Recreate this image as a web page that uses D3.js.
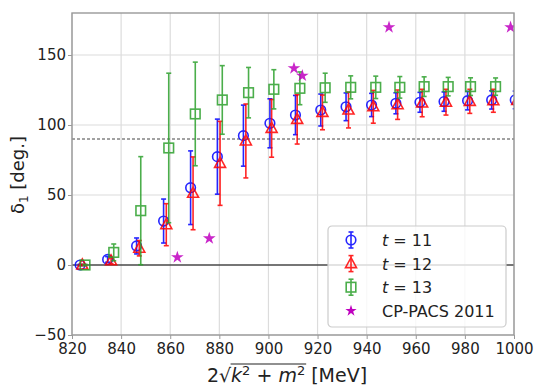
<!DOCTYPE html>
<html>
<head>
<meta charset="utf-8">
<script src="https://cdn.jsdelivr.net/npm/d3@7"></script>
<style>
  body { margin: 0; background: #fff; }
  text { font-family: "DejaVu Sans", sans-serif; }
</style>
</head>
<body>
<svg id="drawing_region"></svg>
<script>
// energies per series (MeV)
const x_t11 = [823.3, 834.5, 846.3, 857.3, 868.3, 879.2, 889.8, 900.6, 911.0, 921.3, 931.6, 942.0, 951.9, 961.7, 971.5, 981.1, 990.9, 1000.5];
const x_t12 = [824.2, 835.9, 847.4, 858.4, 869.3, 880.3, 890.8, 901.3, 911.7, 922.0, 932.6, 942.7, 952.6, 962.6, 972.3, 982.0, 991.6, 1001.3];
const x_t13 = [825.3, 837.0, 848.0, 859.4, 870.2, 881.2, 891.9, 902.2, 912.8, 923.1, 933.5, 943.7, 953.5, 963.4, 973.2, 982.3, 992.5, 1002.2];

const d_t11 = [0, 4, 13.6, 31.4, 55.2, 77.4, 92.4, 101.2, 107.1, 110.7, 113.0, 114.3, 115.5, 116.2, 116.7, 117.4, 117.9, 117.9];
const e_t11 = [0.5, 2, 5.7, 15.7, 26.3, 26.8, 21.8, 17.5, 14.0, 11.4, 9.9, 8.3, 7.5, 7.1, 6.9, 6.6, 6.5, 6.3];

const d_t12 = [0, 3, 12, 28.8, 51.2, 72.6, 88.6, 97.6, 104.0, 109.0, 110.7, 113.0, 114.5, 115.7, 116.3, 116.9, 117.3, 117.5];
const e_t12 = [0.5, 2, 5.5, 15, 26, 30, 26.4, 20.6, 17.6, 12.4, 12.8, 11.7, 10.5, 9.8, 9.2, 8.6, 8.2, 8.0];

const d_t13 = [0, 9, 38.8, 83.6, 107.9, 117.9, 123.1, 125.5, 126.2, 126.6, 126.9, 126.9, 126.9, 127.4, 127.4, 127.4, 127.4, 127.4];
const e_t13 = [0.5, 6, 38.6, 53.4, 37, 24.5, 18, 14, 11.7, 10.4, 8.2, 8.0, 7.7, 7.0, 6.6, 6.3, 6.2, 6.0];

const x_cp = [862.9, 875.9, 910.4, 913.8, 949.1, 998.6];
const d_cp = [5.5, 19.0, 140.5, 135.2, 169.8, 169.8];

const x_ticks = [820, 840, 860, 880, 900, 920, 940, 960, 980, 1000];
const y_ticks = [-50, 0, 50, 100, 150];

const width = 536, height = 387;
const margin = {top: 13, right: 22, bottom: 52, left: 72};
const inner_width = width - margin.left - margin.right;
const inner_height = height - margin.top - margin.bottom;

const svg = d3.select('#drawing_region')
    .attr('width', width)
    .attr('height', height);

svg.append('defs').append('clipPath')
    .attr('id', 'plot_clip')
    .append('rect')
    .attr('width', inner_width)
    .attr('height', inner_height);

const chart = svg.append('g')
    .attr('transform', `translate(${margin.left}, ${margin.top})`);

const xscale = d3.scaleLinear().domain([820, 1000]).range([0, inner_width]);
const yscale = d3.scaleLinear().domain([-50, 180]).range([inner_height, 0]);

// grid
chart.append('g').selectAll('line')
    .data(x_ticks)
    .join('line')
    .attr('x1', d => xscale(d)).attr('x2', d => xscale(d))
    .attr('y1', 0).attr('y2', inner_height)
    .attr('stroke', '#dcdcdc').attr('stroke-width', 1.2);
chart.append('g').selectAll('line')
    .data(y_ticks)
    .join('line')
    .attr('y1', d => yscale(d)).attr('y2', d => yscale(d))
    .attr('x1', 0).attr('x2', inner_width)
    .attr('stroke', '#dcdcdc').attr('stroke-width', 1.2);

// reference lines
chart.append('line')
    .attr('x1', 0).attr('x2', inner_width)
    .attr('y1', yscale(0)).attr('y2', yscale(0))
    .attr('stroke', '#000').attr('stroke-width', 1.2);
chart.append('line')
    .attr('x1', 0).attr('x2', inner_width)
    .attr('y1', yscale(90)).attr('y2', yscale(90))
    .attr('stroke', '#444').attr('stroke-width', 1)
    .attr('stroke-dasharray', '3,2');

const plot = chart.append('g').attr('clip-path', 'url(#plot_clip)');

const series = [
    {label: '11', xs: x_t11, ys: d_t11, es: e_t11, color: '#0000ff', shape: 'circle'},
    {label: '12', xs: x_t12, ys: d_t12, es: e_t12, color: '#ff0000', shape: 'triangle'},
    {label: '13', xs: x_t13, ys: d_t13, es: e_t13, color: '#2ca02c', shape: 'square'}
];

function draw_marker(g, shape, color) {
    if (shape === 'circle') {
        g.append('circle').attr('r', 4.8)
            .attr('fill', 'none').attr('stroke', color).attr('stroke-width', 1.6);
    } else if (shape === 'triangle') {
        g.append('path').attr('d', 'M0,-6L5.5,4L-5.5,4Z')
            .attr('fill', 'none').attr('stroke', color).attr('stroke-width', 1.6);
    } else {
        g.append('rect').attr('x', -4.8).attr('y', -4.8).attr('width', 9.6).attr('height', 9.6)
            .attr('fill', 'none').attr('stroke', color).attr('stroke-width', 1.6);
    }
}

function draw_errbar(g, y0, y1, color) {
    g.append('line').attr('x1', 0).attr('x2', 0).attr('y1', y0).attr('y2', y1)
        .attr('stroke', color).attr('stroke-width', 1.6);
    [y0, y1].forEach(y => {
        g.append('line').attr('x1', -2.5).attr('x2', 2.5).attr('y1', y).attr('y2', y)
            .attr('stroke', color).attr('stroke-width', 1.6);
    });
}

series.forEach(s => {
    const data = s.xs.map((x, i) => ({x: x, y: s.ys[i], e: s.es[i]}));
    const pts = plot.append('g').attr('opacity', 0.85)
        .selectAll('g')
        .data(data)
        .join('g')
        .attr('transform', d => `translate(${xscale(d.x)}, ${yscale(d.y)})`);
    pts.each(function(d) {
        const g = d3.select(this);
        draw_errbar(g, yscale(d.y + d.e) - yscale(d.y), yscale(d.y - d.e) - yscale(d.y), s.color);
        draw_marker(g, s.shape, s.color);
    });
});

const star = d3.symbol().type(d3.symbolStar).size(50);
plot.append('g').selectAll('path')
    .data(x_cp.map((x, i) => ({x: x, y: d_cp[i]})))
    .join('path')
    .attr('d', star)
    .attr('transform', d => `translate(${xscale(d.x)}, ${yscale(d.y)})`)
    .attr('fill', '#bf00bf')
    .attr('opacity', 0.85);

// axes
const xaxis = d3.axisBottom(xscale).tickValues(x_ticks).tickSize(4).tickPadding(4).tickSizeOuter(0)
    .tickFormat(d3.format('d'));
const yaxis = d3.axisLeft(yscale).tickValues(y_ticks).tickSize(4).tickPadding(2).tickSizeOuter(0)
    .tickFormat(d => d < 0 ? '\u2212' + Math.abs(d) : d);

const xg = chart.append('g').attr('transform', `translate(0, ${inner_height})`).call(xaxis);
const yg = chart.append('g').call(yaxis);
[xg, yg].forEach(g => {
    g.selectAll('text').attr('font-size', 15).attr('fill', '#222')
        .style('font-family', '"DejaVu Sans", sans-serif');
    g.selectAll('line').attr('stroke', '#999');
    g.select('.domain').remove();
});

// frame
chart.append('rect')
    .attr('width', inner_width).attr('height', inner_height)
    .attr('fill', 'none').attr('stroke', '#999').attr('stroke-width', 1.4);

// legend
const legend = chart.append('g')
    .attr('transform', `translate(${328 - margin.left}, ${226 - margin.top})`);
legend.append('rect')
    .attr('width', 178).attr('height', 101).attr('rx', 4)
    .attr('fill', '#fff').attr('fill-opacity', 0.8)
    .attr('stroke', '#ccc').attr('stroke-width', 1.2);

const leg_rows = series.map(s => ({type: 'err', s: s}));
leg_rows.push({type: 'star'});
leg_rows.forEach((r, i) => {
    const row = legend.append('g').attr('transform', `translate(23, ${14 + i * 23.6})`);
    if (r.type === 'err') {
        const mg = row.append('g').attr('opacity', 0.85);
        draw_errbar(mg, -8, 8, r.s.color);
        draw_marker(mg, r.s.shape, r.s.color);
        const t = row.append('text').attr('x', 31).attr('y', 6).attr('font-size', 16).attr('fill', '#222');
        t.append('tspan').attr('font-style', 'italic').text('t');
        t.append('tspan').text(' = ' + r.s.label);
    } else {
        row.append('path').attr('d', d3.symbol().type(d3.symbolStar).size(40))
            .attr('fill', '#bf00bf');
        row.append('text').attr('x', 31).attr('y', 6).attr('font-size', 16).attr('fill', '#222')
            .text('CP-PACS 2011');
    }
});

// y label
const ylab = svg.append('text')
    .attr('transform', 'translate(24, 175) rotate(-90)')
    .attr('text-anchor', 'middle')
    .attr('font-size', 18).attr('fill', '#222');
ylab.append('tspan').text('\u03b4');
ylab.append('tspan').attr('font-size', 12).attr('dy', 4).text('1');
ylab.append('tspan').attr('dy', -4).text(' [deg.]');

// x label with a square root
const xlab = svg.append('text')
    .attr('x', 287).attr('y', 382)
    .attr('text-anchor', 'middle')
    .attr('font-size', 19).attr('fill', '#222');
xlab.append('tspan').text('2\u221a');
xlab.append('tspan').attr('font-style', 'italic').text('k');
xlab.append('tspan').attr('font-size', 13).attr('dy', -7).text('2');
xlab.append('tspan').attr('dy', 7).text(' + ');
xlab.append('tspan').attr('font-style', 'italic').text('m');
xlab.append('tspan').attr('font-size', 13).attr('dy', -7).text('2');
xlab.append('tspan').attr('dy', 7).text(' [MeV]');

const node = xlab.node();
const last = node.getEndPositionOfChar(8);
const rad = node.getEndPositionOfChar(1);
svg.append('line')
    .attr('x1', rad.x - 0.5).attr('x2', last.x + 1)
    .attr('y1', 364).attr('y2', 364)
    .attr('stroke', '#222').attr('stroke-width', 1.1);
</script>
</body>
</html>
